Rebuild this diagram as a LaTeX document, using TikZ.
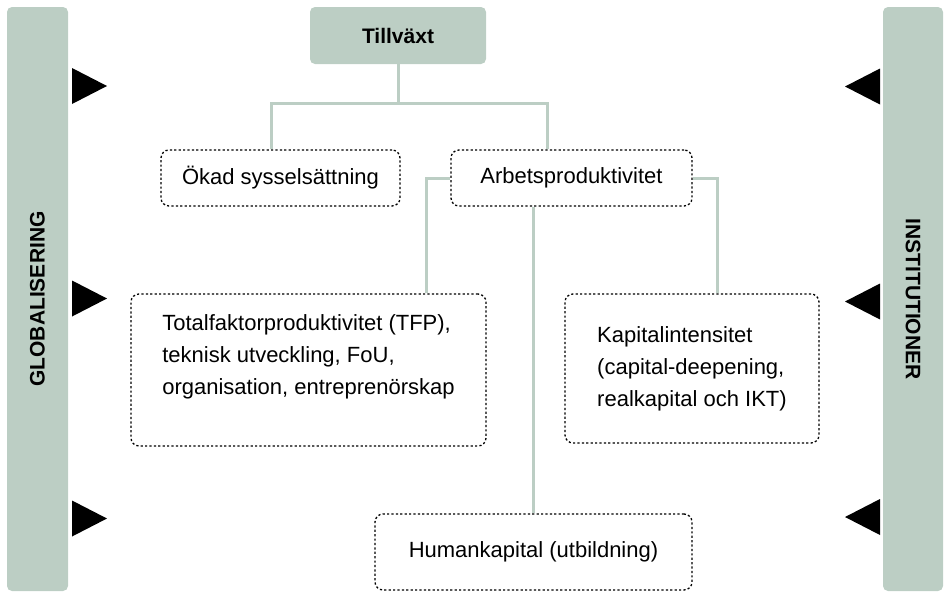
\documentclass[tikz,border=0pt]{standalone}
\usepackage{fontspec}
\setmainfont{Liberation Sans}
\definecolor{sage}{RGB}{188,206,196}

\begin{document}
\begin{tikzpicture}[x=1pt, y=-1pt,
    every node/.style={font=\fontsize{22}{32}\selectfont},
    bar/.style={fill=sage, rounded corners=5pt, font=\fontsize{21}{25}\selectfont\bfseries},
    topbox/.style={fill=sage, rounded corners=5pt, minimum width=176pt, minimum height=57pt, font=\fontsize{21}{25}\selectfont\bfseries},
    dotbox/.style={draw, line width=1.3pt, dash pattern=on 2.2pt off 2.2pt, rounded corners=8pt, inner sep=0pt},
    link/.style={draw=sage, line width=3pt}]
\useasboundingbox (0,0) rectangle (944,592);

\node[bar, rotate=90, minimum width=584pt, minimum height=61pt] (glob) at (37.5,299) {GLOBALISERING};
\node[bar, rotate=-90, minimum width=584pt, minimum height=60pt] (inst) at (913,299) {INSTITUTIONER};

\node[topbox] (tillvaxt) at (398,35.5) {Tillväxt};
\node[dotbox, minimum width=239pt, minimum height=56pt] (okad) at (280.5,178) {Ökad sysselsättning};
\node[dotbox, minimum width=241pt, minimum height=56pt] (arbets) at (571.5,178) {Arbetsproduktivitet};
\node[dotbox, minimum width=355pt, minimum height=152pt, align=left, text depth=30pt] (tfp) at (308.5,370)
  {Totalfaktorproduktivitet (TFP),\\teknisk utveckling, FoU,\\organisation, entreprenörskap};
\node[dotbox, minimum width=254pt, minimum height=149pt, align=left] (kapital) at (692,368.5)
  {Kapitalintensitet\\(capital-deepening,\\realkapital och IKT)};
\node[dotbox, minimum width=317pt, minimum height=76pt] (humankap) at (533.5,552) {Humankapital (utbildning)};

% connectors
\draw[link] (tillvaxt.south) -- ++(0,39) coordinate (split);
\draw[link] ([xshift=-9pt]okad.north) |- (split) -| ([xshift=-24pt]arbets.north);
\draw[link] (arbets.west) -- ++(-24,0) coordinate (tfpknee) -- (tfpknee |- tfp.north);
\draw[link] (arbets.east) -- ++(25,0) coordinate (kapknee) -- (kapknee |- kapital.north);
\draw[link] (humankap.north |- arbets.south) -- (humankap.north);

% triangles
\foreach \y in {86,298.5,518.5}
  \fill (72,\y-18) -- (107,\y) -- (72,\y+18) -- cycle;
\foreach \y in {86.5,301.5,517}
  \fill (880,\y-18) -- (845,\y) -- (880,\y+18) -- cycle;
\end{tikzpicture}
\end{document}
